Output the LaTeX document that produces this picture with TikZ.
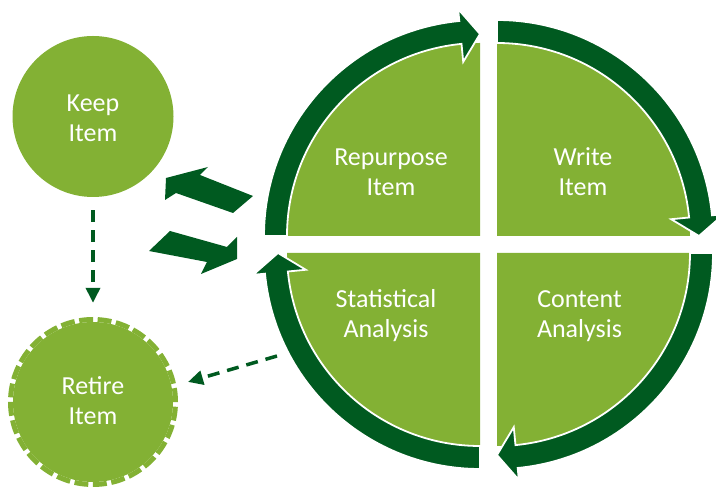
\documentclass[tikz,border=0pt]{standalone}
\usepackage{fontspec}
\setmainfont{Carlito}
\usetikzlibrary{arrows.meta}

\definecolor{leaf}{RGB}{131,177,52}
\definecolor{forest}{RGB}{0,90,32}

\tikzset{
  quad/.style={fill=leaf},
  ringstyle/.style={fill=forest, draw=white, line width=1.8pt, line join=miter},
  % two-line labels, placed by the baseline of their second line
  txt/.style={text=white, font=\fontsize{26}{30}\selectfont, align=center, anchor=base, inner sep=0pt},
  disc/.style={circle, fill=leaf, inner sep=0pt},
  dasharrow/.style={draw=forest, line width=3.5pt, dash pattern=on 12pt off 8pt,
    -{Triangle[length=15pt,width=14pt]}},
  blockarrow/.style={fill=forest}
}

% curved arrow hugging a quarter disc: corner, start angle, end angle (clockwise)
\newcommand\ringarrow[3]{%
  \draw[ringstyle, shift={#1}]
    (#2:216) arc[start angle=#2, end angle={#3+5.5}, radius=216]
    -- ({#3+5.5}:228) -- (#3:202) -- ({#3+5.5}:175) -- ({#3+5.5}:193)
    arc[start angle={#3+5.5}, end angle=#2, radius=193] -- cycle;}

\begin{document}
\begin{tikzpicture}[x=1pt, y=1pt]
  \useasboundingbox (0,0) rectangle (716,487);
  \clip (0,0) rectangle (716,487);

  % four quarter discs
  \fill[quad, shift={(480,251)}] (0,0) -- (180:193) arc[start angle=180, end angle=90, radius=193] -- cycle;
  \fill[quad, shift={(497,251)}] (0,0) -- (90:193) arc[start angle=90, end angle=0, radius=193] -- cycle;
  \fill[quad, shift={(497,234)}] (0,0) -- (0:193) arc[start angle=0, end angle=-90, radius=193] -- cycle;
  \fill[quad, shift={(480,234)}] (0,0) -- (270:193) arc[start angle=270, end angle=180, radius=193] -- cycle;

  % cycle arrows around the quarters
  \ringarrow{(480,251)}{180}{90}
  \ringarrow{(497,251)}{90}{0}
  \ringarrow{(497,234)}{0}{-90}
  \ringarrow{(480,234)}{270}{180}

  % quarter labels
  \node[txt] (repurpose) at (391,291) {Repurpose\\Item};
  \node[txt] (write) at (583,291) {Write\\Item};
  \node[txt] (statistical) at (386,149) {Statistical\\Analysis};
  \node[txt] (content) at (579.5,149) {Content\\Analysis};

  % keep / retire discs
  \node[disc, minimum size=161pt] (keep) at (93,370.5) {};
  \node[disc, minimum size=160pt] (retire) at (93,85) {};
  \draw[leaf, line width=5pt, dash pattern=on 13.9pt off 4.61pt] (retire.center) circle[radius=82.5];
  \node[txt] (keeptext) at (93,345) {Keep\\Item};
  \node[txt] (retiretext) at (93,62) {Retire\\Item};

  % block arrows between the discs and the cycle
  \fill[blockarrow] (208,320) coordinate (ua) -- (166,309) -- (165,287) -- (176,294)
    -- (233,274) -- (253,291) -- (200,312) -- cycle;
  \fill[blockarrow] (170,256) coordinate (la) -- (149,236) -- (207,225) -- (201,213)
    -- (237,228) -- (237,250) -- (227,240) -- cycle;

  % dashed connectors
  \coordinate (statout) at (277,131);
  \draw[dasharrow, shorten <=13pt, shorten >=19pt] (keep) -- (retire);
  \draw[dasharrow, shorten >=17pt] (statout) -- (retire.11);
\end{tikzpicture}
\end{document}
